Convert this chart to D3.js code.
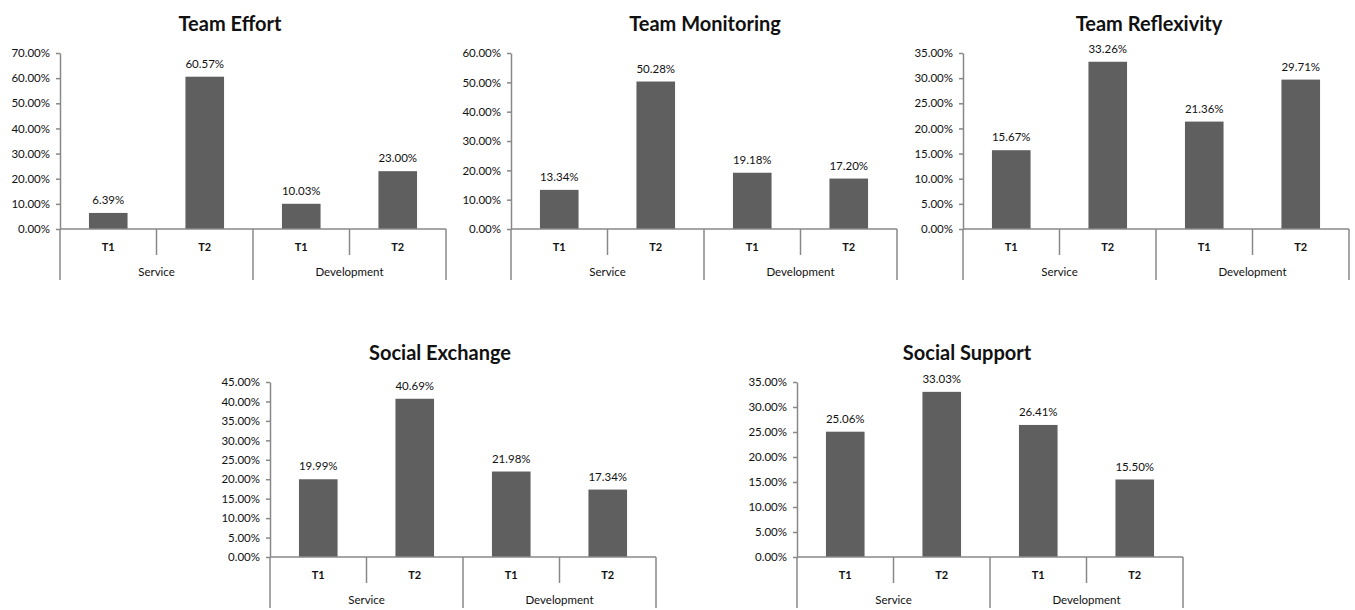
<!DOCTYPE html>
<html>
<head>
<meta charset="utf-8">
<script src="https://cdn.jsdelivr.net/npm/d3@7"></script>
<style>
  body { margin: 0; background: #fff; }
  text { font-family: Lato, "Open Sans", sans-serif; fill: #111; }
</style>
</head>
<body>
<svg id="chart" width="1355" height="610"></svg>
<script>
  // data
  const titles = ["Team Effort", "Team Monitoring", "Team Reflexivity", "Social Exchange", "Social Support"];
  const times = ["T1", "T2", "T1", "T2"];
  const groups = ["Service", "Development"];
  const teamEffort = [6.39, 60.57, 10.03, 23.00];
  const teamMonitoring = [13.34, 50.28, 19.18, 17.20];
  const teamReflexivity = [15.67, 33.26, 21.36, 29.71];
  const socialExchange = [19.99, 40.69, 21.98, 17.34];
  const socialSupport = [25.06, 33.03, 26.41, 15.50];
  const axisMax = [70, 60, 35, 45, 35];
  const axisStep = [10, 10, 5, 5, 5];
  const series = [teamEffort, teamMonitoring, teamReflexivity, socialExchange, socialSupport];

  // layout of each panel
  const panels = [
    { x0: 60,  top: 53,  base: 229, tx: 230 },
    { x0: 511, top: 53,  base: 229, tx: 705 },
    { x0: 963, top: 53,  base: 229, tx: 1149 },
    { x0: 270, top: 382, base: 557, tx: 440 },
    { x0: 797, top: 382, base: 557, tx: 967 }
  ];
  const plotW = 386;
  const barColor = "#5f5f5f";
  const lineColor = "#888";
  const pct = d3.format(".2%");

  const svg = d3.select("#chart");

  panels.forEach((p, k) => {
    const g = svg.append("g");
    const vals = series[k];
    const idx = d3.range(vals.length);

    const y = d3.scaleLinear().domain([0, axisMax[k] / 100]).range([p.base, p.top]);
    const xBar = d3.scaleBand().domain(idx).range([p.x0, p.x0 + plotW]).paddingInner(0.6).paddingOuter(0.3);
    const xCat = d3.scaleBand().domain(idx).range([p.x0, p.x0 + plotW]);
    const xGrp = d3.scaleBand().domain(groups).range([p.x0, p.x0 + plotW]);

    // title
    g.append("text")
      .attr("x", p.tx)
      .attr("y", p.top - 22)
      .attr("text-anchor", "middle")
      .style("font-size", "20px")
      .style("font-weight", "bold")
      .text(titles[k]);

    // y axis
    const ya = g.append("g")
      .attr("transform", `translate(${p.x0},0)`)
      .call(d3.axisLeft(y)
        .tickValues(d3.range(0, axisMax[k] + axisStep[k] / 2, axisStep[k]).map(v => v / 100))
        .tickFormat(pct)
        .tickSize(4).tickSizeOuter(0).tickPadding(6));
    ya.selectAll("path, line").attr("stroke", lineColor).attr("stroke-width", 1.5);
    ya.selectAll("text").style("font-size", "11.5px").style("font-family", "Lato, sans-serif").attr("fill", "#111");

    // bars
    g.selectAll(".bar")
      .data(vals)
      .enter()
      .append("rect")
      .attr("x", (d, i) => xBar(i))
      .attr("y", d => y(d / 100))
      .attr("width", xBar.bandwidth())
      .attr("height", d => p.base - y(d / 100))
      .attr("fill", barColor);

    // value labels
    g.selectAll(".lbl")
      .data(vals)
      .enter()
      .append("text")
      .attr("x", (d, i) => xBar(i) + xBar.bandwidth() / 2)
      .attr("y", d => y(d / 100) - 9)
      .attr("text-anchor", "middle")
      .style("font-size", "11.5px")
      .text(d => pct(d / 100));

    // category axis
    g.append("line")
      .attr("x1", p.x0).attr("x2", p.x0 + plotW)
      .attr("y1", p.base).attr("y2", p.base)
      .attr("stroke", lineColor).attr("stroke-width", 1.5);

    // minor separators (between T1 and T2)
    g.selectAll(".minor")
      .data([1, 3])
      .enter()
      .append("line")
      .attr("x1", i => xCat(i)).attr("x2", i => xCat(i))
      .attr("y1", p.base).attr("y2", p.base + 26)
      .attr("stroke", lineColor).attr("stroke-width", 1.5);

    // major separators (group edges)
    const edges = groups.map(gr => xGrp(gr)).concat([p.x0 + plotW]);
    g.selectAll(".major")
      .data(edges)
      .enter()
      .append("line")
      .attr("x1", d => d).attr("x2", d => d)
      .attr("y1", p.base).attr("y2", p.base + 51)
      .attr("stroke", lineColor).attr("stroke-width", 1.5);

    g.selectAll(".time")
      .data(times)
      .enter()
      .append("text")
      .attr("x", (d, i) => xCat(i) + xCat.bandwidth() / 2)
      .attr("y", p.base + 22)
      .attr("text-anchor", "middle")
      .style("font-size", "11px")
      .style("font-weight", "bold")
      .text(d => d);

    g.selectAll(".grp")
      .data(groups)
      .enter()
      .append("text")
      .attr("x", d => xGrp(d) + xGrp.bandwidth() / 2)
      .attr("y", p.base + 47)
      .attr("text-anchor", "middle")
      .style("font-size", "11.5px")
      .text(d => d);
  });
</script>
</body>
</html>
